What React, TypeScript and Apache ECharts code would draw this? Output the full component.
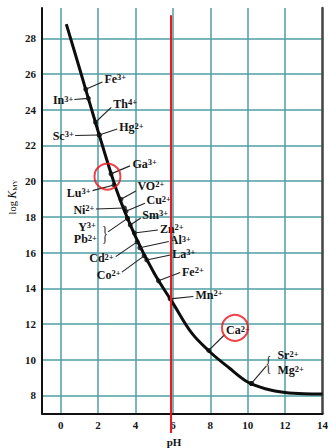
import React, { useEffect, useRef } from 'react';
import * as echarts from 'echarts';

// ---- data ----
const X_LABELS = [0, 2, 4, 6, 8, 10, 12, 14];
const X_GRID = [0, 2, 4, 6, 8, 10, 12];
const Y_LABELS = [8, 10, 12, 14, 16, 18, 20, 22, 24, 26, 28];

// Ringbom curve: minimum log K_MY vs pH
const CURVE_PH = [0.30, 1, 2, 3, 4, 5, 6, 7, 8, 9, 10, 11, 12, 13, 14];
const CURVE_LOGK = [28.80, 26.34, 22.80, 19.47, 16.90, 14.84, 13.17, 11.50, 10.42, 9.55, 8.75, 8.36, 8.16, 8.09, 8.08];

// metal ions marked on the curve
const ION_SYMBOL = ['Fe', 'In', 'Th', 'Hg', 'Sc', 'Ga', 'Lu', 'VO', 'Ni', 'Cu', 'Y', 'Pb', 'Sm', 'Zn', 'Cd', 'Al', 'Co', 'La', 'Fe', 'Mn', 'Ca', 'Sr', 'Mg'];
const ION_CHARGE = ['3+', '3+', '4+', '2+', '3+', '3+', '3+', '2+', '2+', '2+', '3+', '2+', '3+', '2+', '2+', '3+', '2+', '3+', '2+', '2+', '2+', '2+', '2+'];
const ION_PH = [1.34, 1.48, 1.86, 2.06, 2.06, 2.69, 2.85, 3.22, 3.41, 3.49, 3.57, 3.57, 3.72, 3.94, 4.09, 4.23, 4.46, 4.60, 5.23, 5.85, 7.92, 10.20, 10.20];
const ION_LOGK = [25.15, 24.64, 23.30, 22.59, 22.59, 20.41, 19.79, 18.99, 18.50, 18.31, 17.92, 17.92, 17.55, 17.10, 16.60, 16.27, 15.82, 15.59, 14.42, 13.41, 10.52, 8.67, 8.67];

// red pH marker and highlight circles
const MARKER_PH = [5.9, 5.9];
const MARKER_LOGK = [29.3, 5.9];
const CIRCLE_PH = [2.50, 9.32];
const CIRCLE_LOGK = [20.26, 11.79];

// ---- layout (pixel offsets from each ion's point) ----
type Lay = { l?: number[]; t: number[]; a: string; b?: [number, number, string] };
const LABEL_LAYOUT: Lay[] = [
  { l: [16.7, -7.3], t: [18.7, -10.3], a: 'left' },   // Fe3+
  { l: [-14, 1.2], t: [-15, 1.7], a: 'right' },        // In3+
  { l: [15.8, -14.8], t: [17.8, -18.3], a: 'left' },   // Th4+
  { l: [18, -6], t: [20, -7.5], a: 'left' },           // Hg2+
  { l: [-24, 0.5], t: [-25.5, 1], a: 'right' },        // Sc3+
  { l: [19, -8], t: [21.5, -10], a: 'left' },          // Ga3+
  { l: [-21.5, 5.7], t: [-23.5, 7.7], a: 'right' },    // Lu3+
  { l: [15, -8.3], t: [16.5, -13.3], a: 'left' },      // VO2+
  { l: [-28.5, 1], t: [-30, 2], a: 'right' },          // Ni2+
  { l: [19, -8], t: [20.5, -11], a: 'left' },          // Cu2+
  { l: [-19.5, 13.5], t: [-31.5, 8.5], a: 'right', b: [-22.5, 14, '}'] }, // Y3+
  { t: [-30.5, 21], a: 'right' },                      // Pb2+
  { l: [10.5, -7], t: [12, -10], a: 'left' },          // Sm3+
  { l: [23.5, -3], t: [25.5, -4], a: 'left' },         // Zn2+
  { l: [-21.5, 14.7], t: [-23.5, 16.5], a: 'right' },  // Cd2+
  { l: [29, -6.3], t: [30, -7.5], a: 'left' },         // Al3+
  { l: [-22.2, 16.3], t: [-23.5, 19], a: 'right' },    // Co2+
  { l: [23.7, -5], t: [25.5, -6], a: 'left' },         // La3+
  { l: [21.7, -8.3], t: [23.5, -9.3], a: 'left' },     // Fe2+
  { l: [23.3, -2.3], t: [25.3, -4], a: 'left' },       // Mn2+
  { l: [15.7, -15.7], t: [17.3, -20.2], a: 'left' },   // Ca2+
  { l: [15, -17.5], t: [26, -28], a: 'left', b: [17, -20.5, '{'] }, // Sr2+
  { t: [26, -13], a: 'left' },                         // Mg2+
];

const SERIF = '"Liberation Serif", "DejaVu Serif", serif';
const INK = '#141414';
const GRID_COLOR = '#4f9ea3';

export default function App() {
  const ref = useRef<HTMLDivElement>(null);
  useEffect(() => {
    if (!ref.current) return;
    const chart = echarts.init(ref.current, null, { renderer: 'svg' });
    const curve = CURVE_PH.map((p, i) => [p, CURVE_LOGK[i]]);
    const ions = ION_PH.map((p, i) => [p, ION_LOGK[i], i]);
    const rich = {
      m: { fontFamily: SERIF, fontSize: 12, fontWeight: 'bold', color: INK, lineHeight: 12 },
      s: { fontFamily: SERIF, fontSize: 8.5, fontWeight: 'bold', color: INK, lineHeight: 12, verticalAlign: 'top' },
    };
    chart.setOption({
      animation: false,
      grid: { left: 42, right: 5, top: 8, bottom: 34.7, containLabel: false },
      xAxis: {
        type: 'value', min: -1, max: 14,
        axisLine: { show: true, onZero: false, lineStyle: { color: '#111', width: 2 } },
        axisTick: { show: false, customValues: X_GRID },
        axisLabel: { customValues: X_LABELS, color: INK, fontFamily: SERIF, fontSize: 11, fontWeight: 'bold', margin: 6 },
        splitLine: { show: true, lineStyle: { color: GRID_COLOR, width: 1.5 } },
      },
      yAxis: [
        {
          type: 'value', min: 7, max: 29.7,
          axisLine: { show: true, onZero: false, lineStyle: { color: '#111', width: 2 } },
          axisTick: { show: false, customValues: Y_LABELS },
          axisLabel: { customValues: Y_LABELS, color: INK, fontFamily: SERIF, fontSize: 11, fontWeight: 'bold', margin: 6 },
          splitLine: { show: true, lineStyle: { color: GRID_COLOR, width: 1.5 } },
        },
        {
          type: 'value', min: 7, max: 29.7, position: 'right',
          axisLine: { show: true, onZero: false, lineStyle: { color: '#444', width: 2.5 } },
          axisTick: { show: false }, axisLabel: { show: false }, splitLine: { show: false },
        },
      ],
      graphic: [
        {
          type: 'text', x: 12, y: 197, rotation: Math.PI / 2,
          style: {
            text: '{a|log }{k|K}{s|MY}', align: 'center', verticalAlign: 'middle',
            rich: {
              a: { fontFamily: SERIF, fontSize: 10.5, color: INK, lineHeight: 12 },
              k: { fontFamily: SERIF, fontSize: 11.5, fontStyle: 'italic', color: INK, lineHeight: 12 },
              s: { fontFamily: SERIF, fontSize: 7, color: INK, lineHeight: 12, verticalAlign: 'bottom' },
            },
          },
        },
        {
          type: 'text', x: 174, y: 442,
          style: { text: 'pH', align: 'center', verticalAlign: 'middle', font: `bold 11px ${SERIF}`, fill: INK },
        },
      ],
      series: [
        {
          type: 'line', data: curve, smooth: 0.35, showSymbol: false, symbol: 'none',
          lineStyle: { color: '#0d0d0d', width: 3 }, z: 2, silent: true,
        },
        {
          type: 'scatter', data: ions.map((d) => [d[0], d[1]]), symbolSize: 5,
          itemStyle: { color: '#0d0d0d' }, z: 3, silent: true,
        },
        {
          type: 'custom', data: ions, encode: { x: 0, y: 1 }, z: 4, clip: false, silent: true,
          renderItem: (params: any, api: any) => {
            const i = api.value(2);
            const p = api.coord([api.value(0), api.value(1)]);
            const L = LABEL_LAYOUT[i];
            const children: any[] = [];
            if (L.l) {
              children.push({
                type: 'line',
                shape: { x1: p[0], y1: p[1], x2: p[0] + L.l[0], y2: p[1] + L.l[1] },
                style: { stroke: '#222', lineWidth: 1.1 },
              });
            }
            if (L.b) {
              children.push({
                type: 'text', x: p[0] + L.b[0], y: p[1] + L.b[1], scaleX: 0.55,
                style: { text: L.b[2], fontFamily: SERIF, fontSize: 22, fill: INK, align: 'center', verticalAlign: 'middle' },
              });
            }
            children.push({
              type: 'text', x: p[0] + L.t[0], y: p[1] + L.t[1],
              style: {
                text: `{m|${ION_SYMBOL[i]}}{s|${ION_CHARGE[i]}}`,
                rich, align: L.a, verticalAlign: 'middle', fill: INK,
              },
            });
            return { type: 'group', children };
          },
        },
        {
          type: 'line', data: MARKER_PH.map((p, i) => [p, MARKER_LOGK[i]]), symbol: 'none', clip: false,
          lineStyle: { color: '#f0141a', width: 2 }, z: 5, silent: true,
        },
        {
          type: 'scatter', data: CIRCLE_PH.map((p, i) => [p, CIRCLE_LOGK[i]]), symbol: 'circle', symbolSize: 26,
          itemStyle: { color: 'rgba(0,0,0,0)', borderColor: '#e8141c', borderWidth: 2 }, z: 6, silent: true,
        },
      ],
    });
    return () => chart.dispose();
  }, []);
  return (
    <div
      ref={ref}
      style={{ position: 'fixed', left: 0, top: 0, width: 331, height: 448, background: '#fff' }}
    />
  );
}
